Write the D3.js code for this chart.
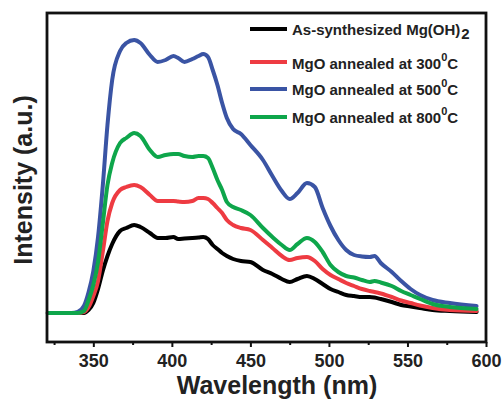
<!DOCTYPE html>
<html>
<head>
<meta charset="utf-8">
<script src="https://cdn.jsdelivr.net/npm/d3@7"></script>
<style>
  html, body { margin: 0; padding: 0; background: #fff; }
  svg { display: block; font-family: "Liberation Sans", Arial, sans-serif; font-weight: bold; }
</style>
</head>
<body>
<svg id="chart" width="503" height="401"></svg>
<script>
// Wavelength grid (nm)
const wavelengths = [321, 336, 340, 344, 347, 350, 353, 356, 359, 362, 367, 371, 376, 380, 386, 391, 396, 401, 404, 408, 413, 417, 420, 423, 426, 429, 432, 435, 439, 444, 450, 458, 464, 470, 475, 480, 486, 491, 496, 501, 506, 511, 516, 521, 526, 529, 533, 540, 546, 552, 558, 566, 577, 594];
// Intensities (a.u.)
const mgOH2 = [0, 0, 0, 0, 3, 10, 24, 42, 57, 69, 82, 85, 88, 86, 80, 75, 75, 76, 74, 74.5, 75, 75.5, 76, 74, 68, 64, 60, 57, 54, 52, 51, 43, 39, 34, 31, 34, 37, 34, 29, 24, 21, 18, 17, 16, 16, 15.5, 14, 11, 8, 6.5, 5, 3, 2, 1];
const mgo300 = [0, 0, 0, 1, 6, 17, 32, 61, 92, 110, 123, 126, 128, 126, 118, 112, 112, 112, 111.5, 111, 112, 115, 115, 114, 110, 105, 100, 93, 88, 85, 83, 73, 65, 57, 53, 55, 56, 52, 44, 38, 34, 30, 27, 24, 22, 21, 19.5, 16, 12.5, 10, 7.5, 5, 3, 2];
const mgo500 = [0, 0, 1, 7, 21, 42, 76, 127, 188, 233, 262, 270, 273, 270, 258, 251, 253, 257, 255, 251, 254, 257, 259, 256, 243, 228, 210, 195, 184, 179, 168, 153, 137, 122, 114, 120, 130, 126, 105, 87, 73, 63, 58, 56.5, 56, 57, 50, 41, 32, 24, 18, 13, 10, 7];
const mgo800 = [0, 0, 0, 2, 13, 28, 51, 89, 128, 150, 170, 175, 180, 177, 163, 156, 158, 159, 159, 157, 156, 157, 157, 155, 145, 133, 123, 111, 106, 103, 98, 85, 76, 68, 63, 69, 75, 71, 61, 48, 41, 37, 35.5, 33, 31, 32, 30.5, 27, 22, 18, 14, 9, 6, 4];

const seriesNames = ["As-synthesized Mg(OH)", "MgO annealed at 300", "MgO annealed at 500", "MgO annealed at 800"];
const seriesColors = ["#000000", "#ee3b42", "#3a54a4", "#0ea64b"];
const majorTicks = [350, 400, 450, 500, 550, 600];
const minorTicks = [325, 375, 425, 475, 525, 575];

const svg = d3.select("#chart");
const L = 47, R = 486, T = 13, B = 342;

const x = d3.scaleLinear().domain([320.5, 600]).range([L, R]);
const y = d3.scaleLinear().domain([-29, 300]).range([B, T]);

const allSeries = [mgOH2, mgo300, mgo500, mgo800];

const line = d3.line()
  .x(d => x(d[0]))
  .y(d => y(d[1]))
  .curve(d3.curveMonotoneX);

// curves
allSeries.forEach((vals, i) => {
  svg.append("path")
    .datum(wavelengths.map((w, k) => [w, vals[k]]))
    .attr("fill", "none")
    .attr("stroke", seriesColors[i])
    .attr("stroke-width", 4)
    .attr("stroke-linejoin", "round")
    .attr("stroke-linecap", "round")
    .attr("d", line);
});

// frame
svg.append("rect")
  .attr("x", L).attr("y", T)
  .attr("width", R - L).attr("height", B - T)
  .attr("fill", "none").attr("stroke", "#111").attr("stroke-width", 2.8);

// x axis major
const gx = svg.append("g").attr("transform", `translate(0,${B})`)
  .call(d3.axisBottom(x).tickValues(majorTicks).tickSize(5).tickPadding(7).tickFormat(d3.format("d")));
gx.select(".domain").remove();
gx.selectAll(".tick line").attr("stroke", "#111").attr("stroke-width", 2);
gx.selectAll(".tick text")
  .attr("fill", "#222")
  .style("font-family", "'Liberation Sans', Arial, sans-serif")
  .style("font-weight", "bold")
  .style("font-size", "18px");

// x axis minor
const gxm = svg.append("g").attr("transform", `translate(0,${B})`)
  .call(d3.axisBottom(x).tickValues(minorTicks).tickSize(3).tickFormat(""));
gxm.select(".domain").remove();
gxm.selectAll(".tick line").attr("stroke", "#111").attr("stroke-width", 2);

// axis titles
svg.append("text")
  .attr("x", 277).attr("y", 394)
  .attr("text-anchor", "middle")
  .attr("fill", "#222")
  .style("font-size", "25px")
  .text("Wavelength (nm)");

svg.append("text")
  .attr("transform", "translate(32,180) rotate(-90)")
  .attr("text-anchor", "middle")
  .attr("fill", "#222")
  .style("font-size", "25px")
  .text("Intensity (a.u.)");

// legend
const legendLineY = [29, 62, 89, 117];
const legendTextY = [35, 69, 95, 123];
const legendSup = [null, "0", "0", "0"];
seriesNames.forEach((name, i) => {
  svg.append("line")
    .attr("x1", 250).attr("x2", 287)
    .attr("y1", legendLineY[i]).attr("y2", legendLineY[i])
    .attr("stroke", seriesColors[i]).attr("stroke-width", 4);
  const t = svg.append("text")
    .attr("x", 292).attr("y", legendTextY[i])
    .attr("fill", "#222")
    .style("font-size", "15px");
  t.append("tspan").text(name);
  if (i === 0) {
    t.append("tspan").attr("dy", 4).attr("dx", 1).style("font-size", "15px").text("2");
  } else {
    t.append("tspan").attr("dy", -8).style("font-size", "11px").text(legendSup[i]);
    t.append("tspan").attr("dy", 8).style("font-size", "15px").text("C");
  }
});
</script>
</body>
</html>
